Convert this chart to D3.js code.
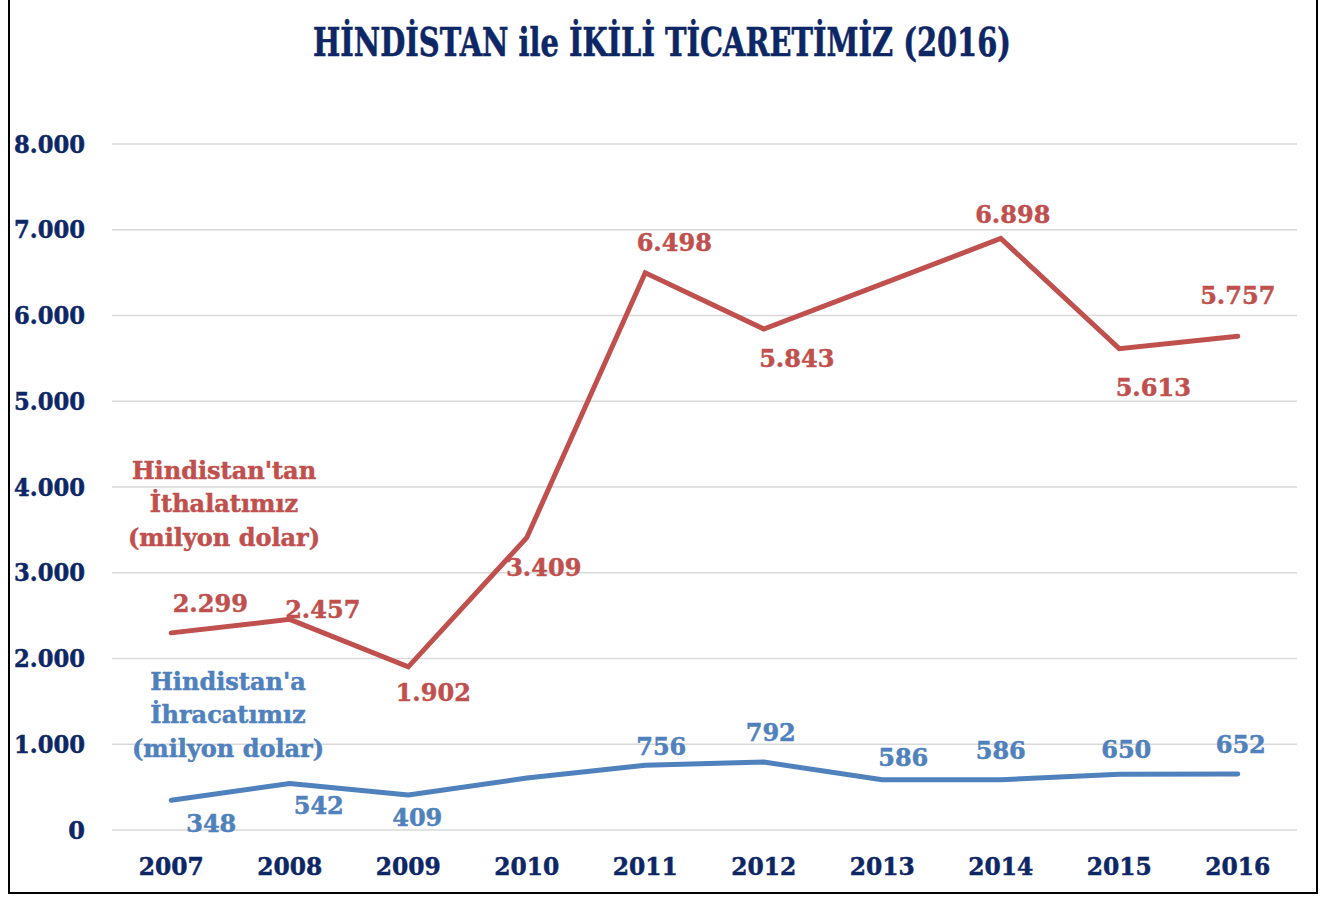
<!DOCTYPE html>
<html><head><meta charset="utf-8">
<script src="https://cdn.jsdelivr.net/npm/d3@7"></script>
<style>body{margin:0;background:#fff}svg{display:block}text{font-family:"DejaVu Serif",serif;font-weight:bold}</style>
</head><body><svg id="c" width="1332" height="897"></svg>
<script>
const years = ["2007","2008","2009","2010","2011","2012","2013","2014","2015","2016"];
const imports = [2299, 2457, 1902, 3409, 6498, 5843, 6368, 6898, 5613, 5757];
const exportsV = [348, 542, 409, 606, 756, 792, 586, 586, 650, 652];
const importLabels = ["2.299","2.457","1.902","3.409","6.498","5.843",null,"6.898","5.613","5.757"];
const exportLabels = ["348","542","409",null,"756","792","586","586","650","652"];
const yTicks = [0,1000,2000,3000,4000,5000,6000,7000,8000];
const yTickLabels = ["0","1.000","2.000","3.000","4.000","5.000","6.000","7.000","8.000"];
const title = "HİNDİSTAN ile İKİLİ TİCARETİMİZ (2016)";
const importName = ["Hindistan'tan","İthalatımız","(milyon dolar)"];
const exportName = ["Hindistan'a","İhracatımız","(milyon dolar)"];
// label placement offsets (px) relative to each point
const importOff = [[39,-30],[33,-10],[25,25],[17,30],[29,-30],[33,29],[0,0],[12,-24],[34,39],[0,-41]];
const exportOff = [[40,23],[29,22],[9,22],[0,0],[16,-19],[7,-30],[21,-22],[0,-29],[7,-25],[3,-30]];

const navy = "#0D2766", red = "#C0504D", blue = "#4F81BD";
const svg = d3.select("#c");
svg.append("rect").attr("x",9).attr("y",-5).attr("width",1308).attr("height",898)
  .attr("fill","#fff").attr("stroke","#000").attr("stroke-width",2);

const x = d3.scaleBand().domain(years).range([112,1297]);
const y = d3.scaleLinear().domain([0,8000]).range([830,144]);
const cx = d => x(d) + x.bandwidth()/2;
const FS = 24;

function styleText(sel, color){
  return sel.attr("fill",color).attr("stroke",color).attr("stroke-width",0.5).attr("font-size",FS);
}

// gridlines
svg.append("g").selectAll("line").data(yTicks).join("line")
  .attr("x1",112).attr("x2",1297).attr("y1",d=>y(d)).attr("y2",d=>y(d))
  .attr("stroke","#d9d9d9").attr("stroke-width",1.5);

// y labels
styleText(svg.append("g").selectAll("text").data(yTicks).join("text")
  .attr("x",85).attr("y",d=>y(d)).attr("dy","0.36em").attr("text-anchor","end")
  .attr("lengthAdjust","spacingAndGlyphs")
  .text((d,i)=>yTickLabels[i]), navy)
  .attr("textLength",(d,i)=>i===0?null:71);

// x labels
styleText(svg.append("g").selectAll("text").data(years).join("text")
  .attr("x",d=>cx(d)).attr("y",875).attr("text-anchor","middle")
  .attr("textLength",65).attr("lengthAdjust","spacingAndGlyphs")
  .text(d=>d), navy);

// title
svg.append("text").attr("x",662).attr("y",56).attr("text-anchor","middle")
  .attr("fill",navy).attr("stroke",navy).attr("stroke-width",0.6)
  .attr("font-size",39).attr("textLength",698).attr("lengthAdjust","spacingAndGlyphs")
  .text(title);

const line = d3.line().x((d,i)=>cx(years[i])).y(d=>y(d));
svg.append("path").datum(imports).attr("d",line).attr("fill","none")
  .attr("stroke",red).attr("stroke-width",5).attr("stroke-linejoin","miter").attr("stroke-linecap","round");
svg.append("path").datum(exportsV).attr("d",line).attr("fill","none")
  .attr("stroke",blue).attr("stroke-width",5).attr("stroke-linejoin","round").attr("stroke-linecap","round");

function labels(vals, labs, offs, color){
  const pts = vals.map((v,i)=>({v,i,lab:labs[i]})).filter(p=>p.lab!==null);
  styleText(svg.append("g").selectAll("text").data(pts).join("text")
    .attr("x",p=>cx(years[p.i])+offs[p.i][0])
    .attr("y",p=>y(p.v)+offs[p.i][1])
    .attr("dy","0.36em").attr("text-anchor","middle")
    .text(p=>p.lab), color);
}
labels(imports, importLabels, importOff, red);
labels(exportsV, exportLabels, exportOff, blue);

function seriesName(lines, color, xc, y0){
  styleText(svg.append("g").selectAll("text").data(lines).join("text")
    .attr("x",xc).attr("y",(d,i)=>y0+i*33.5).attr("dy","0.36em").attr("text-anchor","middle")
    .text(d=>d), color);
}
seriesName(importName, red, 224, 470);
seriesName(exportName, blue, 228, 681);
</script></body></html>
